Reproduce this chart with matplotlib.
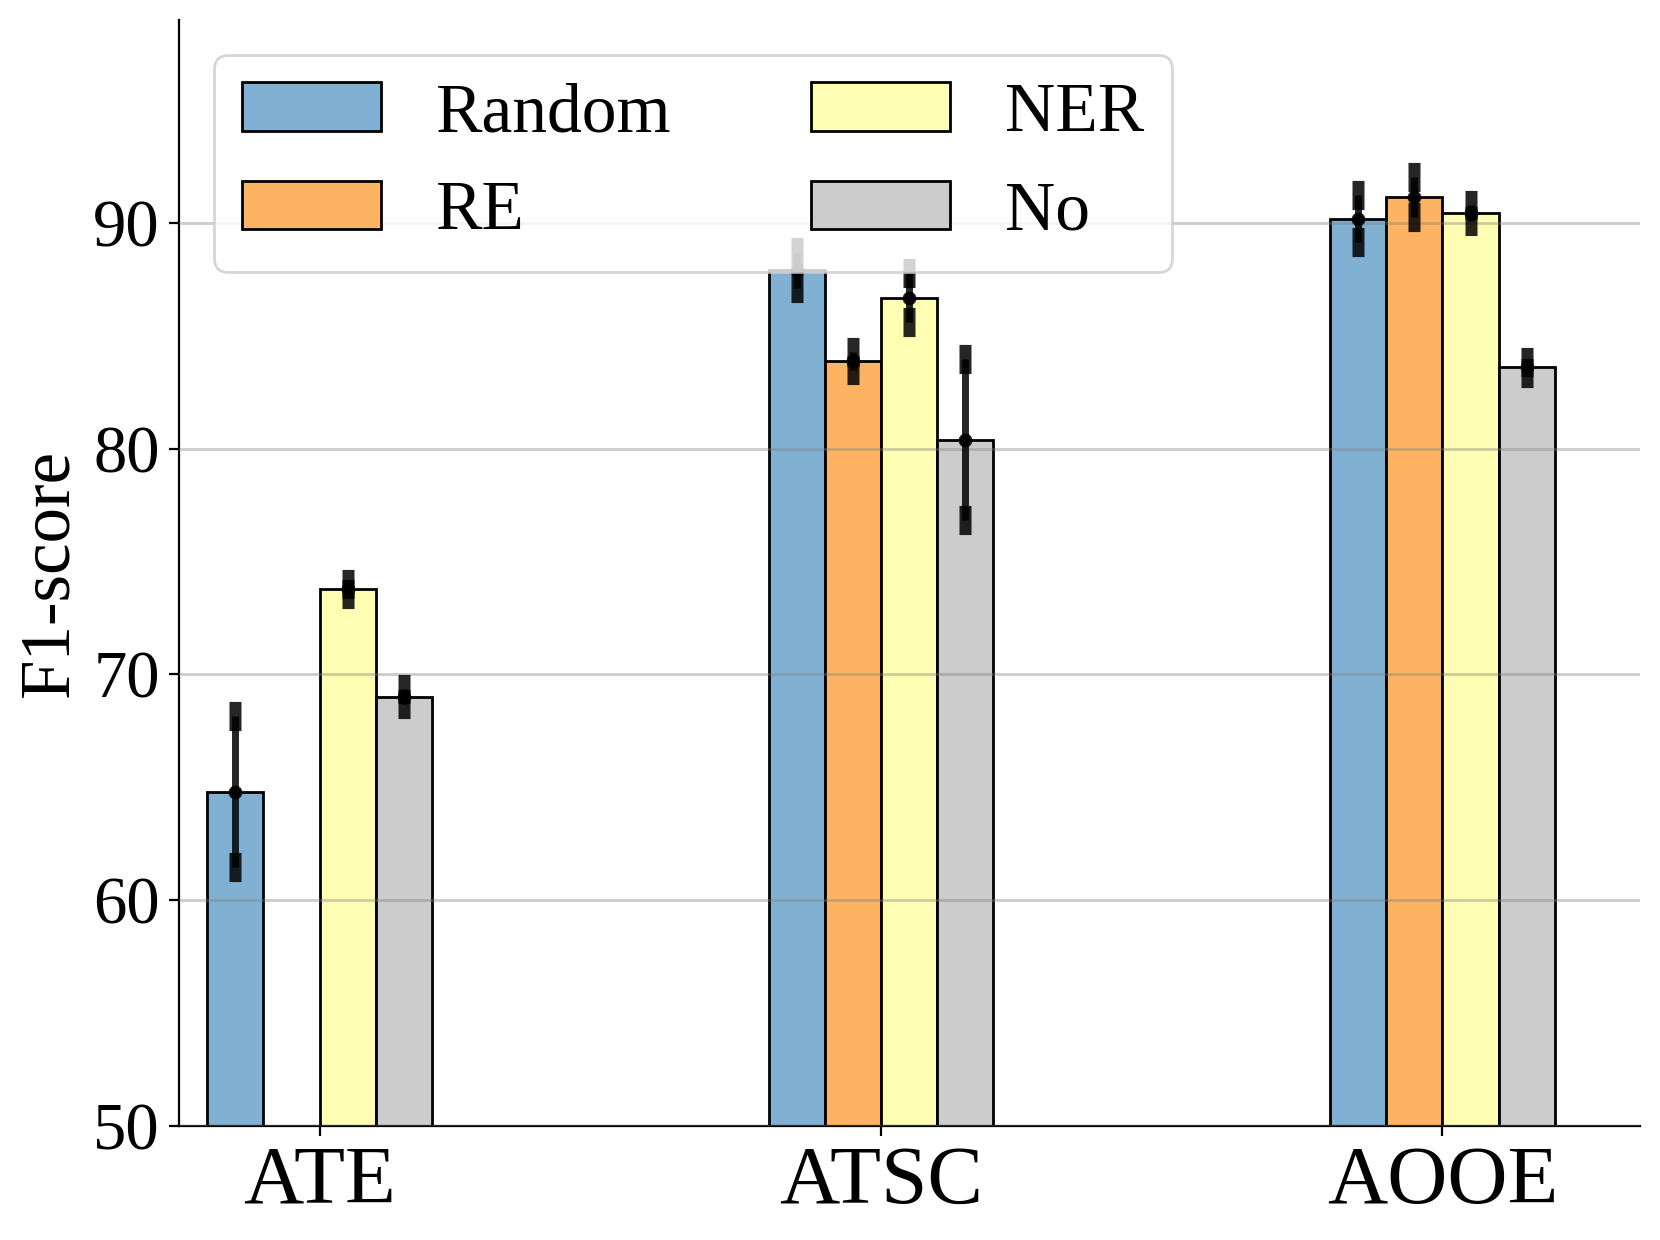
import numpy as np
import matplotlib
matplotlib.use("Agg")
import matplotlib.pyplot as plt

# data
tasks = ["ATE", "ATSC", "AOOE"]
methods = ["Random", "RE", "NER", "No"]
random_f1 = [64.8, 87.9, 90.2]
random_err = [3.35, 0.8, 1.05]
re_f1 = [np.nan, 83.9, 91.15]
re_err = [np.nan, 0.4, 0.9]
ner_f1 = [73.8, 86.7, 90.45]
ner_err = [0.22, 1.07, 0.35]
no_f1 = [69.0, 80.4, 83.6]
no_err = [0.33, 3.57, 0.23]

colors = ["#80b1d3", "#fdb462", "#ffffb3", "#cccccc"]

plt.rcParams["font.family"] = ["Liberation Serif", "STIXGeneral", "DejaVu Serif"]

fig = plt.figure(figsize=(8.3, 6.2), dpi=200)
ax = fig.add_axes([0.108, 0.0922, 0.88, 0.8917])

x = np.arange(len(tasks))
width = 0.1
all_f1 = [random_f1, re_f1, ner_f1, no_f1]
all_err = [random_err, re_err, ner_err, no_err]

for i, (name, f1, err) in enumerate(zip(methods, all_f1, all_err)):
    pos = x + (i - 1.5) * width
    ax.bar(pos, f1, width, color=colors[i], edgecolor="black", linewidth=1.0,
           label=name, zorder=1)
    # caps are narrow and tall in the original
    ax.errorbar(pos, f1, yerr=err, fmt="o", ms=4, color="black", alpha=0.85,
                elinewidth=2.5, capsize=2.2, capthick=10.5, zorder=3)

ax.set_ylim(50, 99)
ax.set_xlim(-0.25, 2.352)
ax.set_yticks([50, 60, 70, 80, 90])
ax.set_xticks(x)
ax.set_xticklabels(tasks, fontsize=30)
ax.tick_params(axis="y", labelsize=24)
ax.set_ylabel("F1-score", fontsize=25.5)

ax.grid(axis="y", color="gray", alpha=0.4, linewidth=1.0, zorder=2)
ax.set_axisbelow(False)
for side in ["top", "right"]:
    ax.spines[side].set_visible(False)

ax.legend(loc="upper left", ncol=2, fontsize=25, handlelength=2.0,
          handletextpad=0.8, columnspacing=2.0, labelspacing=0.5)

fig.savefig("out.png", dpi=200)
